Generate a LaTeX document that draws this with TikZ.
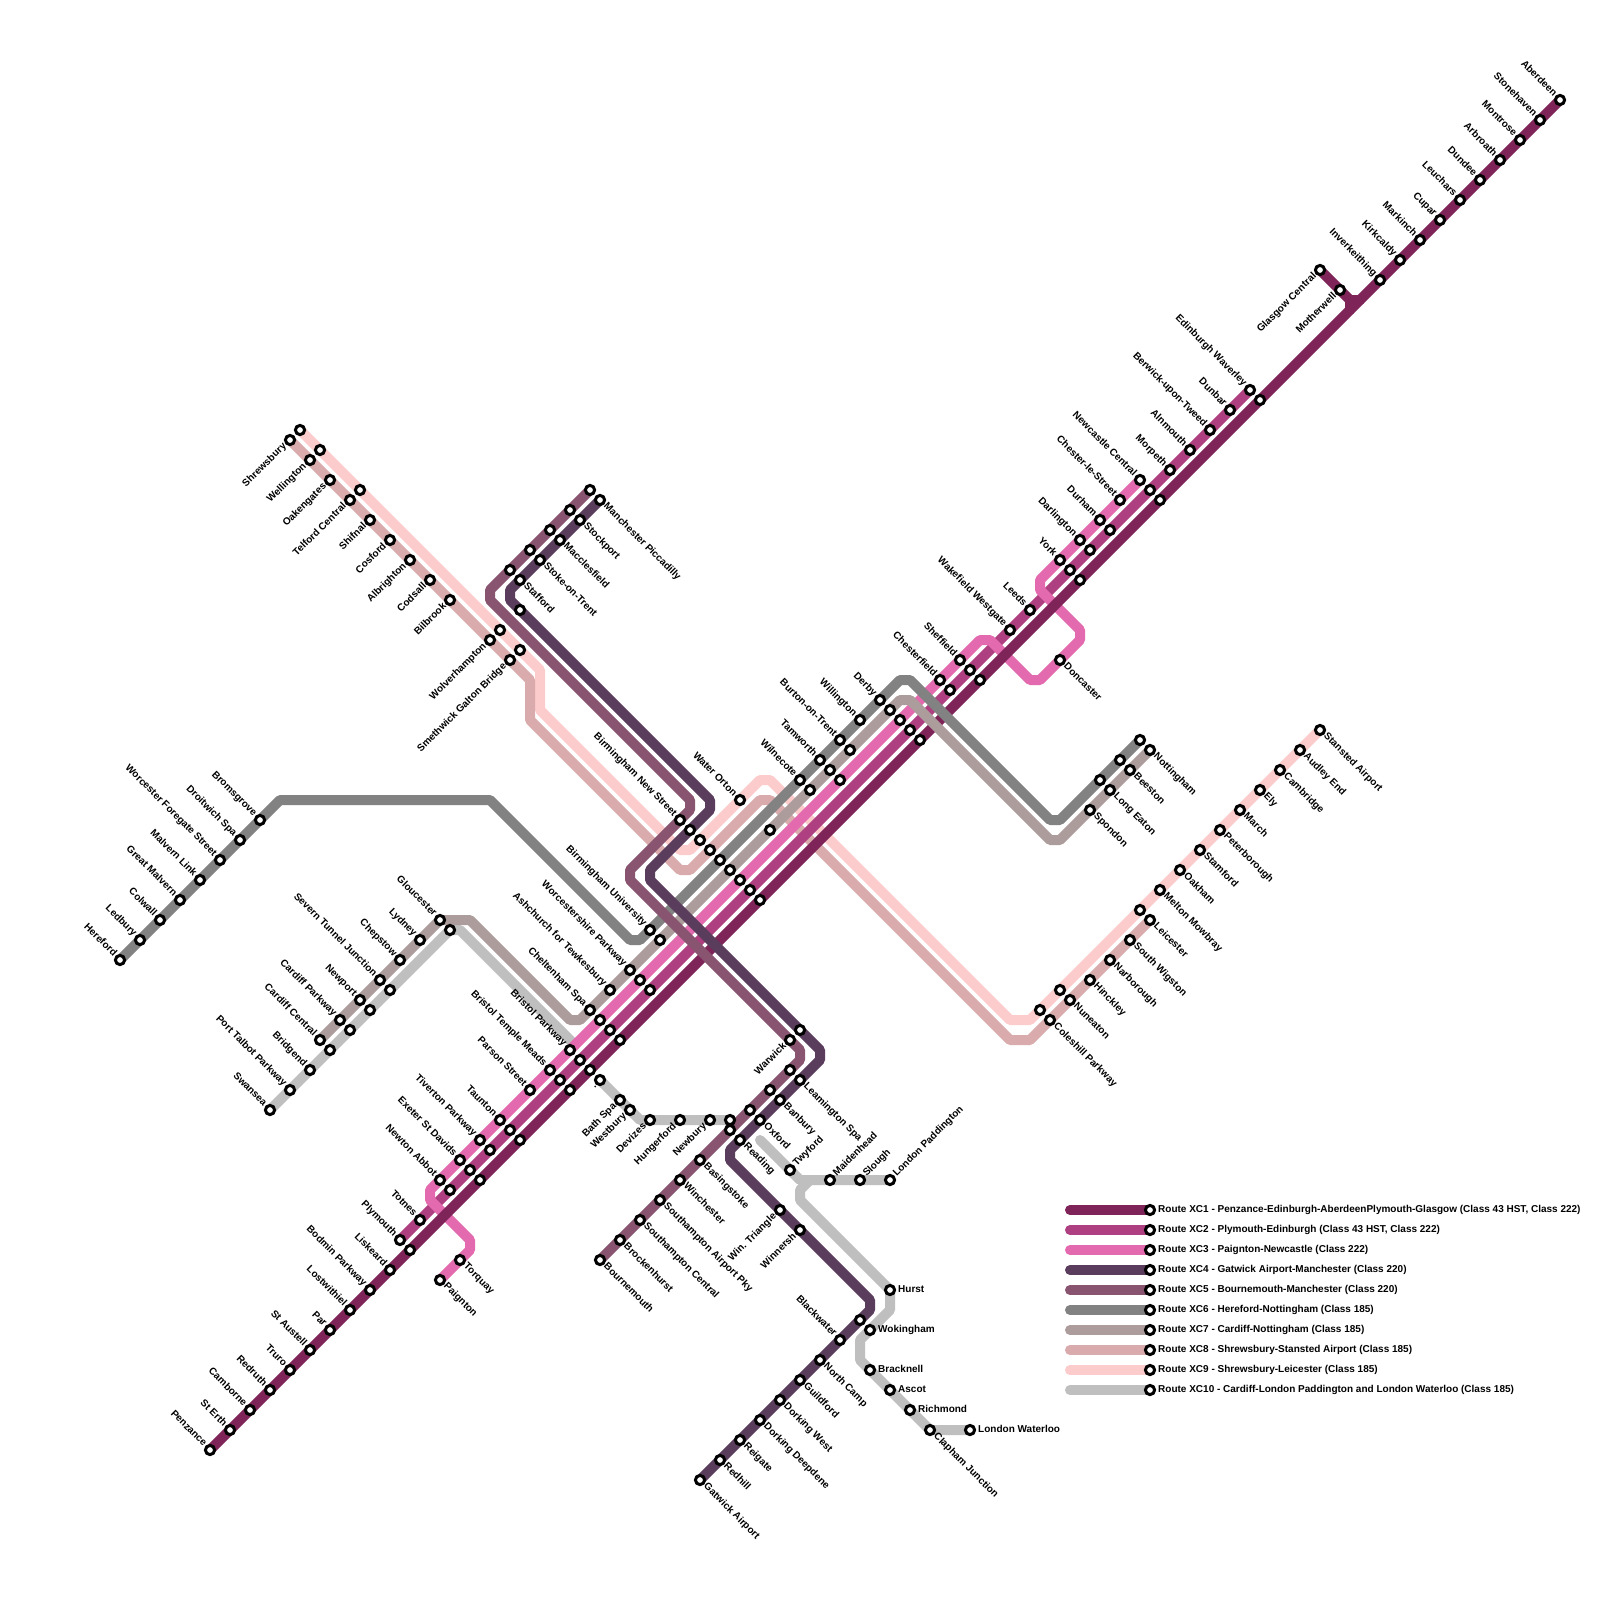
\documentclass[tikz,border=0pt]{standalone}
\usepackage{fontspec}
\setmainfont{Liberation Sans}
\pgfdeclarelayer{lines}
\pgfsetlayers{lines,main}
\definecolor{xca}{HTML}{7F2459}
\definecolor{xcb}{HTML}{AE3F80}
\definecolor{xcc}{HTML}{E36AAE}
\definecolor{xcd}{HTML}{5A3D5C}
\definecolor{xce}{HTML}{88546F}
\definecolor{xcf}{HTML}{828282}
\definecolor{xcg}{HTML}{AC9C9C}
\definecolor{xch}{HTML}{DAABAC}
\definecolor{xci}{HTML}{FCCBCB}
\definecolor{xcj}{HTML}{BFBFBF}
\tikzset{
  stn/.style={circle,draw=black,fill=white,line width=3pt,minimum size=9.2pt,inner sep=0pt,outer sep=0pt},
  txt/.style={font=\fontsize{10}{11}\selectfont\bfseries,text=black,inner ysep=0pt,text height=7.2pt,text depth=2.1pt},
  lbNW/.style={txt,rotate=-45,anchor=east,inner xsep=7pt},
  lbSE/.style={txt,rotate=-45,anchor=west,inner xsep=7pt},
  lbSW/.style={txt,rotate=45,anchor=east,inner xsep=7pt},
  lbNE/.style={txt,rotate=45,anchor=west,inner xsep=7pt},
  lbE/.style={txt,anchor=west,inner xsep=8pt},
  rail/.style={line width=10pt,line cap=round,line join=round,draw=#1},
}
\newcommand{\ST}[5]{\node[stn] (#1) at (#2,#3) {}; \node[#4] (#1t) at (#1.center) {#5};}
\newcommand{\UN}[3]{\node[stn] (#1) at (#2,#3) {};}
\newcommand{\BN}[3]{\coordinate (#1) at (#2,#3);}
\begin{document}
\begin{tikzpicture}[x=1pt,y=-1pt]
\begin{pgfonlayer}{lines}
\useasboundingbox[fill=white] (0,0) rectangle (1600,1600);
\end{pgfonlayer}
% ---------- XC1
\ST{penzance}{210}{1450}{lbNW}{Penzance}
\ST{sterth}{230}{1430}{lbNW}{St Erth}
\ST{camborne}{250}{1410}{lbNW}{Camborne}
\ST{redruth}{270}{1390}{lbNW}{Redruth}
\ST{truro}{290}{1370}{lbNW}{Truro}
\ST{staustell}{310}{1350}{lbNW}{St Austell}
\ST{par}{330}{1330}{lbNW}{Par}
\ST{lostwithiel}{350}{1310}{lbNW}{Lostwithiel}
\ST{bodmin}{370}{1290}{lbNW}{Bodmin Parkway}
\ST{liskeard}{390}{1270}{lbNW}{Liskeard}
\UN{aa}{410}{1250}
\UN{ab}{480}{1180}
\UN{ac}{520}{1140}
\UN{ad}{570}{1090}
\UN{ae}{590}{1070}
\UN{af}{620}{1040}
\UN{ag}{760}{900}
\UN{ah}{920}{740}
\UN{ai}{980}{680}
\UN{aj}{1080}{580}
\UN{ak}{1110}{530}
\UN{al}{1160}{500}
\UN{am}{1260}{400}
\ST{inverk}{1380}{280}{lbNW}{Inverkeithing}
\ST{kirk}{1400}{260}{lbNW}{Kirkcaldy}
\ST{markinch}{1420}{240}{lbNW}{Markinch}
\ST{cupar}{1440}{220}{lbNW}{Cupar}
\ST{leuchars}{1460}{200}{lbNW}{Leuchars}
\ST{dundee}{1480}{180}{lbNW}{Dundee}
\ST{arbroath}{1500}{160}{lbNW}{Arbroath}
\ST{montrose}{1520}{140}{lbNW}{Montrose}
\ST{stonehaven}{1540}{120}{lbNW}{Stonehaven}
\ST{aberdeen}{1560}{100}{lbNW}{Aberdeen}
\ST{glasgow}{1320}{270}{lbSW}{Glasgow Central}
\ST{motherwell}{1340}{290}{lbSW}{Motherwell}
% ---------- XC2
\ST{plymouth}{400}{1240}{lbNW}{Plymouth}
\ST{totnes}{420}{1220}{lbNW}{Totnes}
\UN{ba}{450}{1190}
\UN{bb}{470}{1170}
\UN{bc}{490}{1150}
\UN{bd}{510}{1130}
\UN{be}{560}{1080}
\UN{bf}{580}{1060}
\UN{bg}{610}{1030}
\UN{bh}{650}{990}
\UN{bi}{750}{890}
\UN{bj}{910}{730}
\UN{bk}{950}{690}
\UN{bl}{970}{670}
\UN{bm}{1070}{570}
\UN{bn}{1090}{550}
\UN{bo}{1150}{490}
\ST{morpeth}{1170}{470}{lbNW}{Morpeth}
\ST{alnmouth}{1190}{450}{lbNW}{Alnmouth}
\ST{berwick}{1210}{430}{lbNW}{Berwick-upon-Tweed}
\ST{dunbar}{1230}{410}{lbNW}{Dunbar}
\ST{edinburgh}{1250}{390}{lbNW}{Edinburgh Waverley}
% ---------- XC3
\ST{paignton}{440}{1280}{lbSE}{Paignton}
\ST{torquay}{460}{1260}{lbSE}{Torquay}
\ST{newton}{440}{1180}{lbNW}{Newton Abbot}
\ST{exeter}{460}{1160}{lbNW}{Exeter St Davids}
\ST{tiverton}{480}{1140}{lbNW}{Tiverton Parkway}
\ST{taunton}{500}{1120}{lbNW}{Taunton}
\ST{parson}{530}{1090}{lbNW}{Parson Street}
\ST{templemeads}{550}{1070}{lbNW}{Bristol Temple Meads}
\ST{bristolpk}{570}{1050}{lbNW}{Bristol Parkway}
\UN{ca}{600}{1020}
\UN{cb}{640}{980}
\UN{cc}{740}{880}
\UN{cd}{840}{780}
\UN{ce}{900}{720}
\ST{chesterfield}{940}{680}{lbNW}{Chesterfield}
\ST{sheffield}{960}{660}{lbNW}{Sheffield}
\ST{doncaster}{1060}{660}{lbSE}{Doncaster}
\ST{wakefield}{1010}{630}{lbNW}{Wakefield Westgate}
\ST{leeds}{1030}{610}{lbNW}{Leeds}
\ST{york}{1060}{560}{lbNW}{York}
\ST{darlington}{1080}{540}{lbNW}{Darlington}
\ST{durham}{1100}{520}{lbNW}{Durham}
\ST{chesterle}{1120}{500}{lbNW}{Chester-le-Street}
\ST{newcastle}{1140}{480}{lbNW}{Newcastle Central}
% ---------- XC4
\ST{manchester}{600}{500}{lbSE}{Manchester Piccadilly}
\ST{stockport}{580}{520}{lbSE}{Stockport}
\ST{macclesfield}{560}{540}{lbSE}{Macclesfield}
\ST{stoke}{540}{560}{lbSE}{Stoke-on-Trent}
\ST{stafford}{520}{580}{lbSE}{Stafford}
\UN{da}{520}{610}
\UN{db}{690}{830}
\UN{dc}{800}{1030}
\ST{leamington}{800}{1080}{lbSE}{Leamington Spa}
\ST{banbury}{780}{1100}{lbSE}{Banbury}
\ST{oxford}{760}{1120}{lbSE}{Oxford}
\ST{reading}{740}{1140}{lbSE}{Reading}
\ST{wintri}{780}{1210}{lbSW}{Win. Triangle}
\ST{winnersh}{800}{1230}{lbSW}{Winnersh}
\UN{dd}{860}{1320}
\ST{blackwater}{840}{1340}{lbNW}{Blackwater}
\ST{northcamp}{820}{1360}{lbSE}{North Camp}
\ST{guildford}{800}{1380}{lbSE}{Guildford}
\ST{dorkingw}{780}{1400}{lbSE}{Dorking West}
\ST{dorkingd}{760}{1420}{lbSE}{Dorking Deepdene}
\ST{reigate}{740}{1440}{lbSE}{Reigate}
\ST{redhill}{720}{1460}{lbSE}{Redhill}
\ST{gatwick}{700}{1480}{lbSE}{Gatwick Airport}
% ---------- XC5
\UN{ea}{590}{490}
\UN{eb}{570}{510}
\UN{ec}{550}{530}
\UN{ed}{530}{550}
\UN{ee}{510}{570}
\ST{bhamns}{680}{820}{lbNW}{Birmingham New Street}
\ST{warwick}{790}{1040}{lbSW}{Warwick}
\UN{ef}{790}{1070}
\UN{eg}{770}{1090}
\UN{eh}{750}{1110}
\UN{ei}{730}{1130}
\ST{basingstoke}{700}{1160}{lbSE}{Basingstoke}
\ST{winchester}{680}{1180}{lbSE}{Winchester}
\ST{sotonair}{660}{1200}{lbSE}{Southampton Airport Pky}
\ST{sotoncen}{640}{1220}{lbSE}{Southampton Central}
\ST{brockenhurst}{620}{1240}{lbSE}{Brockenhurst}
\ST{bournemouth}{600}{1260}{lbSE}{Bournemouth}
% ---------- XC6
\ST{hereford}{120}{960}{lbNW}{Hereford}
\ST{ledbury}{140}{940}{lbNW}{Ledbury}
\ST{colwall}{160}{920}{lbNW}{Colwall}
\ST{gmalvern}{180}{900}{lbNW}{Great Malvern}
\ST{mlink}{200}{880}{lbNW}{Malvern Link}
\ST{wforegate}{220}{860}{lbNW}{Worcester Foregate Street}
\ST{droitwich}{240}{840}{lbNW}{Droitwich Spa}
\ST{bromsgrove}{260}{820}{lbNW}{Bromsgrove}
\ST{bhamuni}{650}{930}{lbNW}{Birmingham University}
\UN{fa}{720}{860}
\ST{wilnecote}{800}{780}{lbNW}{Wilnecote}
\ST{tamworth}{820}{760}{lbNW}{Tamworth}
\ST{burton}{840}{740}{lbNW}{Burton-on-Trent}
\ST{willington}{860}{720}{lbNW}{Willington}
\ST{derby}{880}{700}{lbNW}{Derby}
\UN{fb}{1100}{780}
\UN{fc}{1120}{760}
\UN{fd}{1140}{740}
% ---------- XC7
\ST{gloucester}{440}{920}{lbNW}{Gloucester}
\ST{lydney}{420}{940}{lbNW}{Lydney}
\ST{chepstow}{400}{960}{lbNW}{Chepstow}
\ST{severn}{380}{980}{lbNW}{Severn Tunnel Junction}
\ST{newport}{360}{1000}{lbNW}{Newport}
\ST{cardiffpk}{340}{1020}{lbNW}{Cardiff Parkway}
\ST{cardiff}{320}{1040}{lbNW}{Cardiff Central}
\ST{cheltenham}{590}{1010}{lbNW}{Cheltenham Spa}
\ST{ashchurch}{610}{990}{lbNW}{Ashchurch for Tewkesbury}
\ST{worcspk}{630}{970}{lbNW}{Worcestershire Parkway}
\UN{ga}{660}{940}
\UN{gb}{730}{870}
\UN{gc}{770}{830}
\UN{gd}{810}{790}
\UN{ge}{830}{770}
\UN{gf}{850}{750}
\UN{gg}{890}{710}
\ST{spondon}{1090}{810}{lbSE}{Spondon}
\ST{longeaton}{1110}{790}{lbSE}{Long Eaton}
\ST{beeston}{1130}{770}{lbSE}{Beeston}
\ST{nottingham}{1150}{750}{lbSE}{Nottingham}
% ---------- XC8
\ST{shrewsbury}{290}{440}{lbSW}{Shrewsbury}
\ST{wellington}{310}{460}{lbSW}{Wellington}
\ST{oakengates}{330}{480}{lbSW}{Oakengates}
\ST{telford}{350}{500}{lbSW}{Telford Central}
\ST{shifnal}{370}{520}{lbSW}{Shifnal}
\ST{cosford}{390}{540}{lbSW}{Cosford}
\ST{albrighton}{410}{560}{lbSW}{Albrighton}
\ST{codsall}{430}{580}{lbSW}{Codsall}
\ST{bilbrook}{450}{600}{lbSW}{Bilbrook}
\ST{wolverhampton}{490}{640}{lbSW}{Wolverhampton}
\ST{smethwick}{510}{660}{lbSW}{Smethwick Galton Bridge}
\UN{ha}{710}{850}
\ST{leicester}{1150}{920}{lbSE}{Leicester}
\ST{swigston}{1130}{940}{lbSE}{South Wigston}
\ST{narborough}{1110}{960}{lbSE}{Narborough}
\ST{hinckley}{1090}{980}{lbSE}{Hinckley}
\ST{nuneaton}{1070}{1000}{lbSE}{Nuneaton}
\ST{coleshill}{1050}{1020}{lbSE}{Coleshill Parkway}
% ---------- XC9
\UN{ia}{300}{430}
\UN{ib}{320}{450}
\UN{ic}{360}{490}
\UN{id}{500}{630}
\UN{ie}{520}{650}
\UN{if}{700}{840}
\ST{waterorton}{740}{800}{lbNW}{Water Orton}
\UN{ig}{1040}{1010}
\UN{ih}{1060}{990}
\UN{ii}{1140}{910}
\ST{melton}{1160}{890}{lbSE}{Melton Mowbray}
\ST{oakham}{1180}{870}{lbSE}{Oakham}
\ST{stamford}{1200}{850}{lbSE}{Stamford}
\ST{peterborough}{1220}{830}{lbSE}{Peterborough}
\ST{march}{1240}{810}{lbSE}{March}
\ST{ely}{1260}{790}{lbSE}{Ely}
\ST{cambridge}{1280}{770}{lbSE}{Cambridge}
\ST{audley}{1300}{750}{lbSE}{Audley End}
\ST{stansted}{1320}{730}{lbSE}{Stansted Airport}
% ---------- XC10
\ST{swansea}{270}{1110}{lbNW}{Swansea}
\ST{porttalbot}{290}{1090}{lbNW}{Port Talbot Parkway}
\ST{bridgend}{310}{1070}{lbNW}{Bridgend}
\UN{ja}{330}{1050}
\UN{jb}{350}{1030}
\UN{jc}{370}{1010}
\UN{jd}{390}{990}
\UN{je}{450}{930}
\ST{jdot}{600}{1080}{lbSW}{.}
\ST{bathspa}{620}{1100}{lbSW}{Bath Spa}
\ST{westbury}{630}{1110}{lbSW}{Westbury}
\ST{devizes}{650}{1120}{lbSW}{Devizes}
\ST{hungerford}{680}{1120}{lbSW}{Hungerford}
\ST{newbury}{710}{1120}{lbSW}{Newbury}
\UN{jf}{730}{1120}
\ST{twyford}{790}{1170}{lbNE}{Twyford}
\ST{maidenhead}{830}{1180}{lbNE}{Maidenhead}
\ST{slough}{860}{1180}{lbNE}{Slough}
\ST{paddington}{890}{1180}{lbNE}{London Paddington}
\ST{hurst}{890}{1290}{lbE}{Hurst}
\ST{wokingham}{870}{1330}{lbE}{Wokingham}
\ST{bracknell}{870}{1370}{lbE}{Bracknell}
\ST{ascot}{890}{1390}{lbE}{Ascot}
\ST{richmond}{910}{1410}{lbE}{Richmond}
\ST{clapham}{930}{1430}{lbSE}{Clapham Junction}
\ST{waterloo}{970}{1430}{lbE}{London Waterloo}
% ---------- legend
\foreach \i/\t in {0/{Route XC1 - Penzance-Edinburgh-AberdeenPlymouth-Glasgow (Class 43 HST, Class 222)},
  1/{Route XC2 - Plymouth-Edinburgh (Class 43 HST, Class 222)},
  2/{Route XC3 - Paignton-Newcastle (Class 222)},
  3/{Route XC4 - Gatwick Airport-Manchester (Class 220)},
  4/{Route XC5 - Bournemouth-Manchester (Class 220)},
  5/{Route XC6 - Hereford-Nottingham (Class 185)},
  6/{Route XC7 - Cardiff-Nottingham (Class 185)},
  7/{Route XC8 - Shrewsbury-Stansted Airport (Class 185)},
  8/{Route XC9 - Shrewsbury-Leicester (Class 185)},
  9/{Route XC10 - Cardiff-London Paddington and London Waterloo (Class 185)}}{
  \pgfmathsetmacro{\yy}{1210+20*\i}
  \node[stn] (leg\i) at (1150,\yy) {};
  \node[lbE] (leg\i t) at (leg\i.center) {\t};
  \coordinate (lst\i) at (1070,\yy);
}
% ---------- bends
\BN{k1}{1350}{300}\BN{k2}{1360}{300}\BN{k3}{1350}{310}
\BN{c1}{470}{1250}\BN{c2}{470}{1240}\BN{c3}{430}{1200}\BN{c4}{430}{1190}
\BN{c5}{980}{640}\BN{c6}{990}{640}\BN{c7}{1030}{680}\BN{c8}{1040}{680}
\BN{c9}{1080}{640}\BN{c10}{1080}{630}\BN{c11}{1040}{590}\BN{c12}{1040}{580}
\BN{d1}{510}{590}\BN{d2}{510}{600}\BN{d3}{710}{800}\BN{d4}{710}{810}
\BN{d5}{650}{870}\BN{d6}{650}{880}\BN{d7}{820}{1050}\BN{d8}{820}{1060}
\BN{d9}{730}{1150}\BN{d10}{730}{1160}\BN{d11}{870}{1300}\BN{d12}{870}{1310}
\BN{e1}{490}{590}\BN{e2}{490}{600}\BN{e3}{690}{800}\BN{e4}{690}{810}
\BN{e5}{630}{870}\BN{e6}{630}{880}\BN{e7}{800}{1050}\BN{e8}{800}{1060}
\BN{f1}{280}{800}\BN{f2}{490}{800}\BN{f3}{630}{940}\BN{f4}{640}{940}
\BN{f5}{900}{680}\BN{f6}{910}{680}\BN{f7}{1050}{820}\BN{f8}{1060}{820}
\BN{g1}{470}{920}\BN{g2}{570}{1020}\BN{g3}{580}{1020}
\BN{g4}{900}{700}\BN{g5}{910}{700}\BN{g6}{1050}{840}\BN{g7}{1060}{840}
\BN{h1}{530}{680}\BN{h2}{530}{720}\BN{h3}{680}{870}\BN{h4}{690}{870}
\BN{h5}{760}{800}\BN{h6}{770}{800}\BN{h7}{1010}{1040}\BN{h8}{1030}{1040}
\BN{i1}{540}{670}\BN{i2}{540}{710}\BN{i3}{680}{850}\BN{i4}{690}{850}
\BN{i5}{760}{780}\BN{i6}{770}{780}\BN{i7}{1010}{1020}\BN{i8}{1030}{1020}
\BN{j1}{640}{1120}\BN{j2}{760}{1140}\BN{j3}{800}{1180}\BN{j4}{810}{1180}
\BN{j5}{800}{1190}\BN{j6}{800}{1200}\BN{j7}{890}{1310}\BN{j8}{860}{1340}\BN{j9}{860}{1360}
\BN{j10}{460}{930}\BN{j11}{575}{1045}
% ---------- lines
\begin{pgfonlayer}{lines}
\draw[rail=xcj] (swansea.center) -- (je.center) -- (j10) -- (j11);
\draw[rail=xcj] (jdot.center) -- (j1) -- (jf.center);
\draw[rail=xcj] (j2) -- (j3) -- (paddington.center);
\draw[rail=xcj] (j4) -- (j5) -- (j6) -- (hurst.center) -- (j7) -- (j8) -- (j9) -- (clapham.center) -- (waterloo.center);
\draw[rail=xci] (ia.center) -- (ie.center) -- (i1) -- (i2) -- (i3) -- (i4) -- (i5) -- (i6) -- (i7) -- (i8) -- (stansted.center);
\draw[rail=xch] (shrewsbury.center) -- (smethwick.center) -- (h1) -- (h2) -- (h3) -- (h4) -- (h5) -- (h6) -- (h7) -- (h8) -- (leicester.center);
\draw[rail=xcb] (plymouth.center) -- (edinburgh.center);
\draw[rail=xcc] (paignton.center) -- (c1) -- (c2) -- (c3) -- (c4) -- (c5) -- (c6) -- (c7) -- (c8) -- (c9) -- (c10) -- (c11) -- (c12) -- (newcastle.center);
\draw[rail=xca] (penzance.center) -- (aberdeen.center);
\draw[rail=xca] (glasgow.center) -- (k1) -- (k2);
\draw[rail=xca] (k1) -- (k3);
\draw[rail=xcg] (cardiff.center) -- (gloucester.center) -- (g1) -- (g2) -- (g3) -- (g4) -- (g5) -- (g6) -- (g7) -- (nottingham.center);
\draw[rail=xcf] (hereford.center) -- (f1) -- (f2) -- (f3) -- (f4) -- (f5) -- (f6) -- (f7) -- (f8) -- (fd.center);
\draw[rail=xce] (ea.center) -- (e1) -- (e2) -- (e3) -- (e4) -- (e5) -- (e6) -- (e7) -- (e8) -- (bournemouth.center);
\draw[rail=xcd] (manchester.center) -- (d1) -- (d2) -- (d3) -- (d4) -- (d5) -- (d6) -- (d7) -- (d8) -- (d9) -- (d10) -- (d11) -- (d12) -- (gatwick.center);
\foreach \i/\c in {0/xca,1/xcb,2/xcc,3/xcd,4/xce,5/xcf,6/xcg,7/xch,8/xci,9/xcj}{
  \draw[rail=\c] (lst\i) -- (leg\i.center);
}
\end{pgfonlayer}
\end{tikzpicture}
\end{document}
